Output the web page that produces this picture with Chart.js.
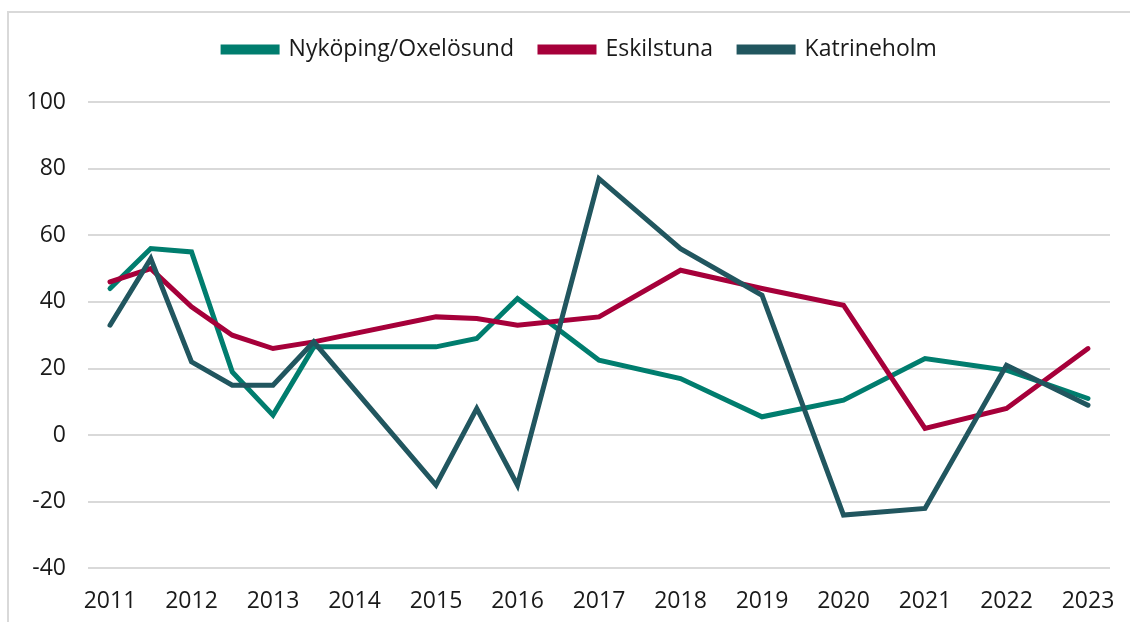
<!DOCTYPE html>
<html>
<head>
<meta charset="utf-8">
<script src="https://cdn.jsdelivr.net/npm/chart.js@4/dist/chart.umd.min.js"></script>
<style>
  html, body { margin: 0; padding: 0; background: #fff; overflow: hidden; width: 1130px; height: 622px; }
  #frame { position: absolute; left: 7px; top: 11px; right: 0; bottom: 0; border-left: 2px solid #d9d9d9; border-top: 2px solid #d9d9d9; }
  #wrap { position: absolute; left: 0; top: 0; width: 1130px; height: 646px; }
</style>
</head>
<body>
<div id="frame"></div>
<div id="wrap"><canvas id="lineChart"></canvas></div>
<script>
// x positions (years, some half-year points)
const years = [2011, 2011.5, 2012, 2012.5, 2013, 2013.5, 2015, 2015.5, 2016, 2017, 2018, 2019, 2020, 2021, 2022, 2023];
const nykoping = [44, 56, 55, 19, 6, 26.5, 26.5, 29, 41, 22.5, 17, 5.5, 10.5, 23, 19.5, 11];
const eskilstuna = [46, 50, 38.5, 30, 26, 28, 35.5, 35, 33, 35.5, 49.5, 44, 39, 2, 8, 26];
const katrineholm = [33, 53, 22, 15, 15, 28, -15, 8, -15, 77, 56, 42, -24, -22, 21, 9];
const yearLabels = ['2011', '2012', '2013', '2014', '2015', '2016', '2017', '2018', '2019', '2020', '2021', '2022', '2023'];
const yTicks = [-40, -20, 0, 20, 40, 60, 80, 100];

const font = "'Open Sans', sans-serif";

function points(values) {
    return values.map((v, i) => ({ x: years[i], y: v }));
}

function line(label, values, color, order) {
    return {
        label: label,
        data: points(values),
        borderColor: color,
        backgroundColor: color,
        borderWidth: 5,
        borderCapStyle: 'round',
        pointRadius: 0,
        tension: 0,
        order: order
    };
}

// extra space under the legend, and nudge it a bit to the right
const legendMargin = {
    id: 'legendMargin',
    beforeInit(chart) {
        const fit = chart.legend.fit;
        chart.legend.fit = function () {
            fit.bind(chart.legend)();
            this.height += 31;
        };
    },
    afterLayout(chart) {
        chart.legend.left += 25;
        chart.legend.right += 25;
    }
};

const ctx = document.getElementById('lineChart').getContext('2d');

new Chart(ctx, {
    type: 'line',
    data: {
        datasets: [
            line('Nyköping/Oxelösund', nykoping, '#007d6e', 3),
            line('Eskilstuna', eskilstuna, '#a6003a', 2),
            line('Katrineholm', katrineholm, '#21565f', 1)
        ]
    },
    options: {
        responsive: true,
        maintainAspectRatio: false,
        animation: false,
        layout: {
            padding: { left: 0, right: 20, top: 12, bottom: 12 }
        },
        plugins: {
            legend: {
                position: 'top',
                labels: {
                    boxWidth: 54,
                    boxHeight: 5,
                    padding: 26,
                    color: '#1a1a1a',
                    font: { family: font, size: 23 },
                    sort: (a, b) => a.datasetIndex - b.datasetIndex
                }
            },
            tooltip: { enabled: false }
        },
        scales: {
            x: {
                type: 'linear',
                min: 2010.73,
                max: 2023.27,
                afterBuildTicks: function (scale) {
                    scale.ticks = yearLabels.map(y => ({ value: Number(y) }));
                },
                afterFit: function (scale) {
                    scale.paddingLeft = 0;
                    scale.paddingRight = 0;
                },
                ticks: {
                    padding: 19,
                    color: '#1a1a1a',
                    font: { family: font, size: 23 },
                    maxRotation: 0,
                    autoSkip: false,
                    callback: function (value) {
                        return String(value);
                    }
                },
                grid: { display: false, drawTicks: false },
                border: { display: false }
            },
            y: {
                min: -40,
                max: 100,
                afterBuildTicks: function (scale) {
                    scale.ticks = yTicks.map(v => ({ value: v }));
                },
                afterFit: function (scale) {
                    scale.width = 88;
                },
                ticks: {
                    padding: 22,
                    color: '#1a1a1a',
                    font: { family: font, size: 23 }
                },
                grid: {
                    color: '#d9d9d9',
                    lineWidth: 2,
                    drawTicks: false
                },
                border: { display: false }
            }
        }
    },
    plugins: [legendMargin]
});
</script>
</body>
</html>
